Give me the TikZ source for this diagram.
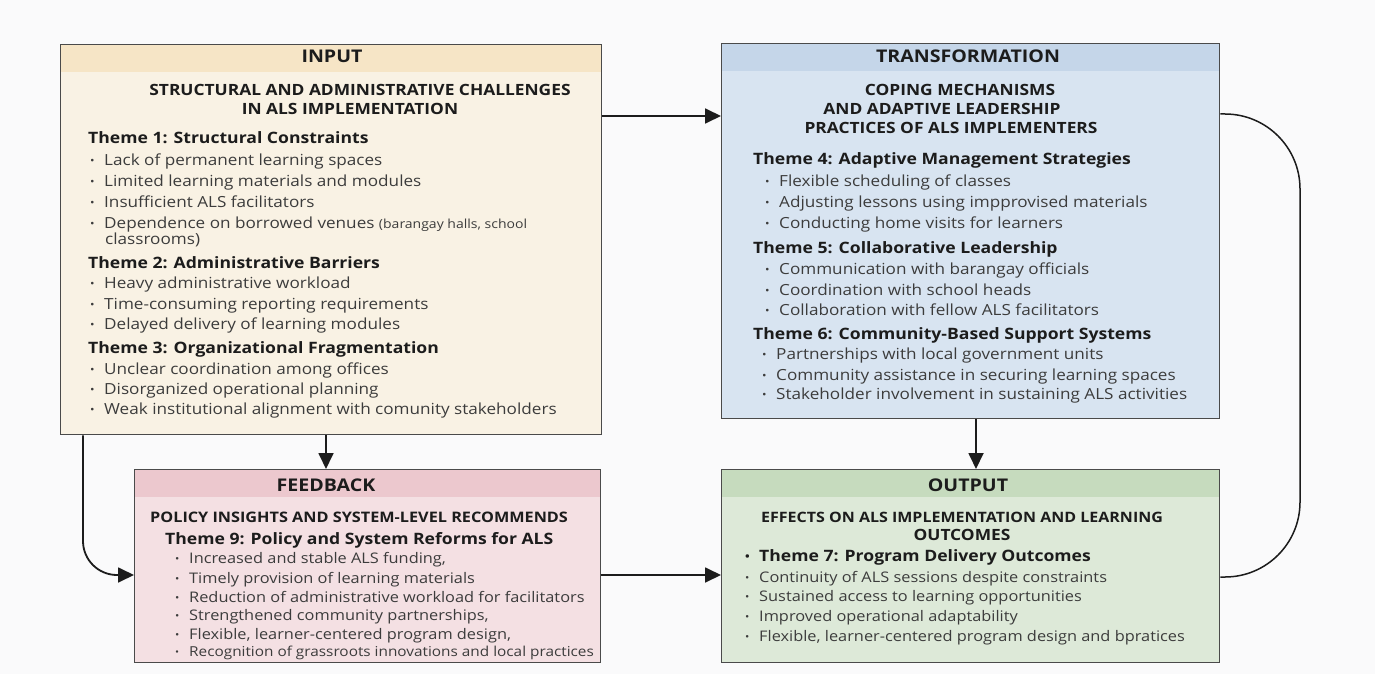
\documentclass[tikz,border=0pt]{standalone}
\usepackage{fontspec}
\setmainfont{Open Sans}[FakeStretch=1.12]
\usetikzlibrary{arrows.meta}
\definecolor{bgc}{HTML}{FAFAFB}
\definecolor{edge}{HTML}{4A4A4A}
\definecolor{inbody}{HTML}{F9F2E4}
\definecolor{inhead}{HTML}{F6E5C6}
\definecolor{trbody}{HTML}{D8E4F1}
\definecolor{trhead}{HTML}{C5D6E9}
\definecolor{fbbody}{HTML}{F4E0E3}
\definecolor{fbhead}{HTML}{ECC8CE}
\definecolor{otbody}{HTML}{DDE9D8}
\definecolor{othead}{HTML}{C6DBBE}
\definecolor{ink}{HTML}{1C1C1C}
\definecolor{soft}{HTML}{3C3C3C}
\newcommand\bl{\makebox[14pt][l]{\raisebox{1pt}{\scalebox{0.7}{•}}}}
\tikzset{
  panel/.style 2 args={draw=edge, line width=1.3pt, fill=#1, anchor=north west, inner sep=0,
    path picture={\fill[#2] (path picture bounding box.north west) rectangle ([yshift=-27pt]path picture bounding box.north east);}},
  hdr/.style={anchor=base, inner sep=0, text=ink, font=\bfseries\fontsize{17.5}{20}\selectfont},
  sub/.style={anchor=base, inner sep=0, text=ink, font=\bfseries\fontsize{15.5}{18}\selectfont},
  subw/.style={anchor=base west, inner sep=0, text=ink, font=\bfseries\fontsize{14.5}{17}\selectfont},
  theme/.style={anchor=base west, inner sep=0, text=ink, font=\bfseries\fontsize{15.7}{18}\selectfont},
  item/.style={anchor=base west, inner sep=0, text=soft, font=\fontsize{15.3}{18}\selectfont},
  itemb/.style={anchor=base west, inner sep=0, text=soft, font=\fontsize{14.6}{17}\selectfont},
  arr/.style={draw=ink, line width=1.8pt, -{Triangle[length=16pt,width=15pt]}},
  loopline/.style={draw=ink, line width=1.5pt}
}
\begin{document}
\begin{tikzpicture}[x=1pt,y=-1pt]
\path[use as bounding box, fill=bgc] (0,0) rectangle (1375,674);

% panels
\node[panel={inbody}{inhead}, minimum width=541pt, minimum height=390pt] (input) at (60,44) {};
\node[panel={trbody}{trhead}, minimum width=498pt, minimum height=375pt] (trans) at (721,43) {};
\node[panel={fbbody}{fbhead}, minimum width=466pt, minimum height=193pt] (feed) at (134,469) {};
\node[panel={otbody}{othead}, minimum width=498pt, minimum height=193pt] (outp) at (721,469) {};

% INPUT texts
\node[hdr] (i0) at (332,63) {INPUT};
\node[sub] (i1) at (360,96) {STRUCTURAL AND ADMINISTRATIVE CHALLENGES};
\node[sub] (i2) at (350,114) {IN ALS IMPLEMENTATION};
\node[theme] (i3) at (88,143) {Theme 1: Structural Constraints};
\node[item] (i4) at (90,165) {\bl Lack of permanent learning spaces};
\node[item] (i5) at (90,186) {\bl Limited learning materials and modules};
\node[item] (i6) at (90,207) {\bl Insufficient ALS facilitators};
\node[item] (i7) at (90,228) {\bl Dependence on borrowed venues {\fontsize{12.5}{14}\selectfont(barangay halls, school}};
\node[item] (i8) at (105,244) {classrooms)};
\node[theme] (i9) at (88,268) {Theme 2: Administrative Barriers};
\node[item] (i10) at (90,288) {\bl Heavy administrative workload};
\node[item] (i11) at (90,309) {\bl Time-consuming reporting requirements};
\node[item] (i12) at (90,329) {\bl Delayed delivery of learning modules};
\node[theme] (i13) at (88,353) {Theme 3: Organizational Fragmentation};
\node[item] (i14) at (90,374) {\bl Unclear coordination among offices};
\node[item] (i15) at (90,394) {\bl Disorganized operational planning};
\node[item] (i16) at (90,414) {\bl Weak institutional alignment with comunity stakeholders};

% TRANSFORMATION texts
\node[hdr] (t0) at (968,63) {TRANSFORMATION};
\node[sub] (t1) at (960,96) {COPING MECHANISMS};
\node[sub] (t2) at (942,114) {AND ADAPTIVE LEADERSHIP};
\node[sub] (t3) at (951,133) {PRACTICES OF ALS IMPLEMENTERS};
\node[theme] (t4) at (753,164) {Theme 4: Adaptive Management Strategies};
\node[item] (t5) at (765,186) {\bl Flexible scheduling of classes};
\node[item] (t6) at (765,207) {\bl Adjusting lessons using impprovised materials};
\node[item] (t7) at (765,228) {\bl Conducting home visits for learners};
\node[theme] (t8) at (753,253) {Theme 5: Collaborative Leadership};
\node[item] (t9) at (765,274) {\bl Communication with barangay officials};
\node[item] (t10) at (765,295) {\bl Coordination with school heads};
\node[item] (t11) at (765,315) {\bl Collaboration with fellow ALS facilitators};
\node[theme] (t12) at (753,339) {Theme 6: Community-Based Support Systems};
\node[item] (t13) at (762,359) {\bl Partnerships with local government units};
\node[item] (t14) at (762,380) {\bl Community assistance in securing learning spaces};
\node[item] (t15) at (762,399) {\bl Stakeholder involvement in sustaining ALS activities};

% FEEDBACK texts
\node[hdr] (f0) at (326,491) {FEEDBACK};
\node[subw] (f1) at (150,522) {POLICY INSIGHTS AND SYSTEM-LEVEL RECOMMENDS};
\node[theme] (f2) at (165,544) {Theme 9: Policy and System Reforms for ALS};
\node[itemb] (f3) at (175,563) {\bl Increased and stable ALS funding,};
\node[itemb] (f4) at (175,583) {\bl Timely provision of learning materials};
\node[itemb] (f5) at (175,602) {\bl Reduction of administrative workload for facilitators};
\node[itemb] (f6) at (175,620) {\bl Strengthened community partnerships,};
\node[itemb] (f7) at (175,639) {\bl Flexible, learner-centered program design,};
\node[itemb, font=\fontsize{13.7}{16}\selectfont] (f8) at (175,656) {\bl Recognition of grassroots innovations and local practices};

% OUTPUT texts
\node[hdr] (o0) at (968,491) {OUTPUT};
\node[sub, font=\bfseries\fontsize{14.3}{17}\selectfont] (o1) at (962,522) {EFFECTS ON ALS IMPLEMENTATION AND LEARNING};
\node[sub] (o2) at (962,540) {OUTCOMES};
\node[theme] (o3) at (745,561) {\bl Theme 7: Program Delivery Outcomes};
\node[itemb] (o4) at (745,582) {\bl Continuity of ALS sessions despite constraints};
\node[itemb] (o5) at (745,601) {\bl Sustained access to learning opportunities};
\node[itemb] (o6) at (745,621) {\bl Improved operational adaptability};
\node[itemb] (o7) at (745,641) {\bl Flexible, learner-centered program design and bpratices};

% connectors
\draw[arr] (input.east |- 0,116) -- (trans.west |- 0,116);
\draw[arr] (input.south -| 326,0) -- (feed.north -| 326,0);
\draw[arr] (trans.south -| 976,0) -- (outp.north -| 976,0);
\draw[arr] (feed.east |- 0,575) -- (outp.west |- 0,575);
\draw[arr, rounded corners=34pt] (input.south -| 83,0) |- (feed.west |- 0,575);
\draw[loopline, rounded corners=75pt] (trans.east |- 0,114) -- (1300,114) -- (1300,577) -- (outp.east |- 0,577);
\end{tikzpicture}
\end{document}
